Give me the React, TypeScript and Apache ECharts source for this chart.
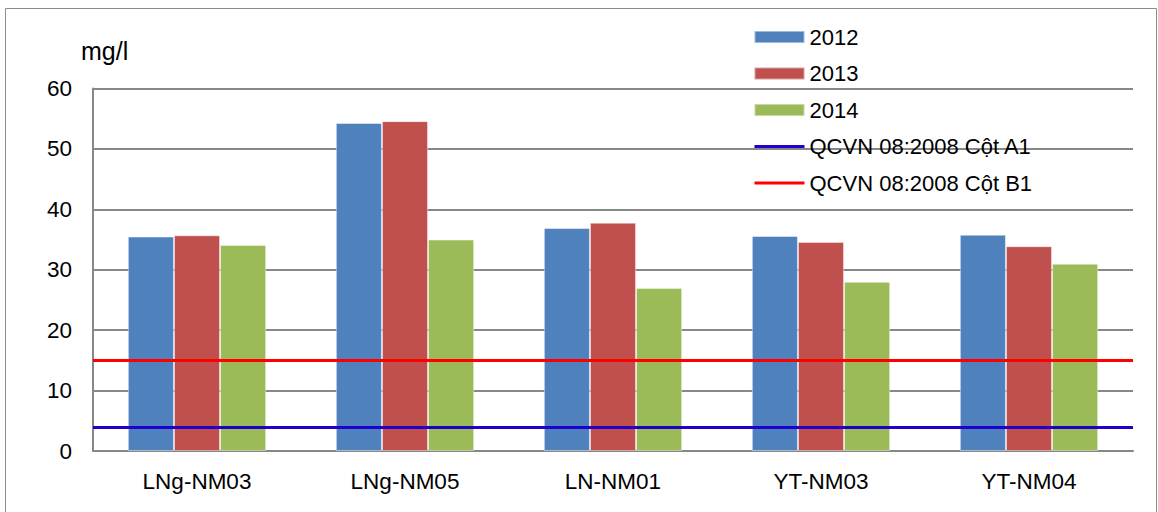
import React, { useEffect, useRef } from "react";
import * as echarts from "echarts";

// Monitoring stations on the x axis
const stations = ["LNg-NM03", "LNg-NM05", "LN-NM01", "YT-NM03", "YT-NM04"];

// Measured concentrations (mg/l) per year
const years = ["2012", "2013", "2014"];
const values2012 = [35.5, 54.3, 36.9, 35.6, 35.8];
const values2013 = [35.7, 54.6, 37.8, 34.6, 33.9];
const values2014 = [34.1, 35.0, 27.0, 28.0, 31.0];

// Standard limits (QCVN 08:2008)
const limitA1Name = "QCVN 08:2008 Cột A1";
const limitB1Name = "QCVN 08:2008 Cột B1";
const limitA1 = 4;
const limitB1 = 15;

// Y axis scale
const yMin = 0;
const yMax = 60;
const yStep = 10;

const barColors = ["#4F81BD", "#C0504D", "#9BBB59"];
const limitA1Color = "#2200CC";
const limitB1Color = "#FF0000";
const FONT = "'Liberation Sans', Arial, sans-serif";

export default function App() {
  const ref = useRef<HTMLDivElement>(null);

  useEffect(() => {
    if (!ref.current) return;
    const chart = echarts.init(ref.current, undefined, { renderer: "svg" });

    const barSeries = [values2012, values2013, values2014].map((vals, i) => ({
      name: years[i],
      type: "bar",
      data: vals,
      barGap: "0%",
      barCategoryGap: "33.5%",
      itemStyle: {
        color: barColors[i],
        borderColor: "rgba(255,255,255,0.45)",
        borderWidth: 1,
      },
      emphasis: { disabled: true },
    }));

    const limitSeries = [
      { name: limitA1Name, value: limitA1, color: limitA1Color },
      { name: limitB1Name, value: limitB1, color: limitB1Color },
    ].map((l) => ({
      name: l.name,
      type: "line",
      data: [],
      symbol: "none",
      lineStyle: { color: l.color, width: 3 },
      itemStyle: { color: l.color },
      markLine: {
        silent: true,
        symbol: ["none", "none"],
        label: { show: false },
        lineStyle: { color: l.color, width: 3, type: "solid" },
        data: [{ yAxis: l.value }],
      },
    }));

    chart.setOption({
      animation: false,
      textStyle: { fontFamily: FONT },
      grid: { left: 93, right: 25, top: 88.5, bottom: 61, containLabel: false },
      legend: {
        orient: "vertical",
        left: 753,
        top: 26,
        padding: 0,
        itemWidth: 50,
        itemHeight: 12,
        itemGap: 14.5,
        textStyle: { fontSize: 22, color: "#000", fontFamily: FONT, lineHeight: 22 },
        data: [
          { name: years[0], icon: "rect" },
          { name: years[1], icon: "rect" },
          { name: years[2], icon: "rect" },
          {
            name: limitA1Name,
            itemStyle: { opacity: 0 },
            lineStyle: { color: limitA1Color, width: 3 },
          },
          {
            name: limitB1Name,
            itemStyle: { opacity: 0 },
            lineStyle: { color: limitB1Color, width: 3 },
          },
        ],
        selectedMode: false,
      },
      xAxis: {
        type: "category",
        data: stations,
        axisTick: { show: false },
        axisLine: { lineStyle: { color: "#878787", width: 2 } },
        axisLabel: { fontSize: 22.5, color: "#000", margin: 19, fontFamily: FONT },
      },
      yAxis: {
        type: "value",
        min: yMin,
        max: yMax,
        interval: yStep,
        axisLine: { show: true, lineStyle: { color: "#878787", width: 2 } },
        axisTick: { show: false },
        splitLine: { lineStyle: { color: "#878787", width: 2 } },
        axisLabel: { fontSize: 22.5, color: "#000", margin: 21, fontFamily: FONT },
      },
      graphic: [
        {
          type: "rect",
          shape: { x: 5.5, y: 8.5, width: 1151, height: 520 },
          style: { fill: "none", stroke: "#8C8C8C", lineWidth: 1 },
          silent: true,
        },
        {
          type: "text",
          x: 81,
          y: 38,
          style: { text: "mg/l", fontSize: 25, fill: "#000", fontFamily: FONT },
          silent: true,
        },
      ],
      series: [...barSeries, ...limitSeries],
    });

    return () => chart.dispose();
  }, []);

  return (
    <div
      ref={ref}
      style={{ position: "fixed", left: 0, top: 0, width: 1158, height: 512, background: "#fff" }}
    />
  );
}
